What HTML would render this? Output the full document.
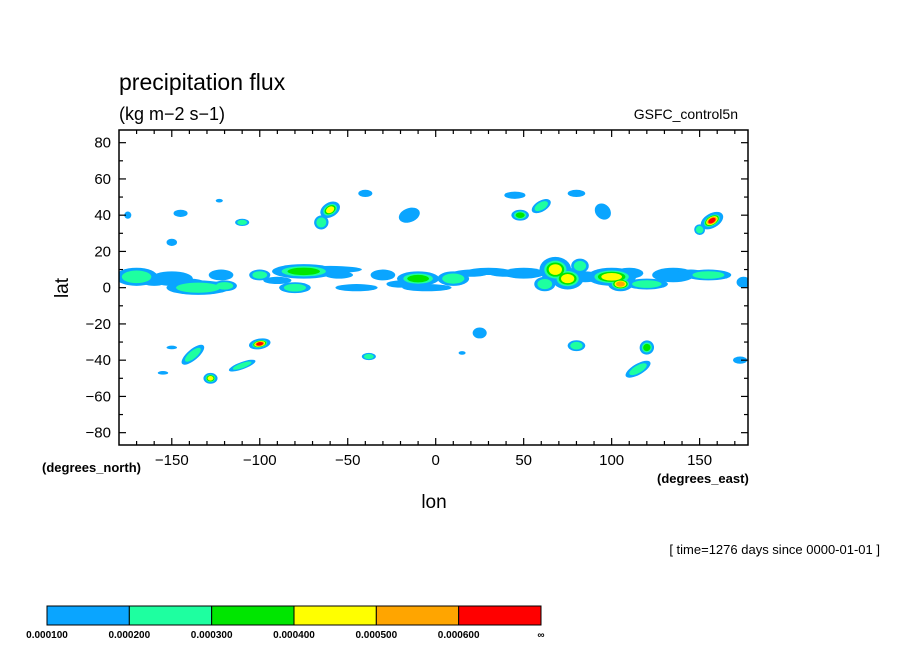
<!DOCTYPE html>
<html><head><meta charset="utf-8"><style>
body{margin:0;background:#fff;}
svg text{font-family:"Liberation Sans",sans-serif;fill:#000;}
</style></head><body>
<svg id="chart" width="904" height="654" viewBox="0 0 904 654" xmlns="http://www.w3.org/2000/svg">
<defs><clipPath id="clip"><rect x="119" y="130" width="629" height="315"/></clipPath></defs>
<rect width="904" height="654" fill="#fff"/>
<text x="119" y="90" font-size="23">precipitation flux</text>
<text x="119" y="120" font-size="18">(kg m−2 s−1)</text>
<text x="738" y="119" font-size="14" text-anchor="end">GSFC_control5n</text>
<g id="plot" clip-path="url(#clip)"></g>
<rect x="119" y="130" width="629" height="315" fill="none" stroke="#000" stroke-width="1.5"/>
<g id="axes"></g>
<text x="434" y="508" font-size="19" text-anchor="middle">lon</text>
<text x="68" y="288" font-size="19" text-anchor="middle" transform="rotate(-90 68 288)">lat</text>
<text x="42" y="472" font-size="13" font-weight="bold">(degrees_north)</text>
<text x="657" y="483" font-size="13" font-weight="bold">(degrees_east)</text>
<text x="880" y="554" font-size="13" text-anchor="end">[ time=1276 days since 0000-01-01 ]</text>
<g id="colorbar"></g>
</svg>
<script>
const levelColors=["#0aa5ff","#1effa0","#00e600","#ffff00","#ffa500","#ff0000"];
const levelLabels=["0.000100","0.000200","0.000300","0.000400","0.000500","0.000600","∞"];
const xTicks=[-150,-100,-50,0,50,100,150];
const yTicks=[80,60,40,20,0,-20,-40,-60,-80];
// blobs: center lon, center lat, half width (deg), half height (deg), peak level, rotation
const blobLon=[-170,-150,-135,-120,-122,-100,-75,-80,-60,-45,-30,-10,-5,10,30,50,68,75,100,105,120,135,155,175,
 -60,-65,-40,-15,-110,-145,-123,-150,-175,45,60,48,80,95,157,150,
 -100,-110,-128,-138,-150,-155,-38,25,15,80,120,115,173,
 -160,-140,-90,-55,-20,20,40,85,110,145,62,82];
const blobLat=[6,5,0,1,7,7,9,0,10,0,7,5,0,5,9,8,10,5,6,2,2,7,7,3,
 43,36,52,40,36,41,48,25,40,51,45,40,52,42,37,32,
 -31,-43,-50,-37,-33,-47,-38,-25,-36,-32,-33,-45,-40,
 4,3,4,7,2,8,8,6,8,8,2,12];
const blobW=[12,12,18,7,7,6,18,9,18,12,7,12,14,9,12,12,9,9,14,7,12,12,13,4,
 6,4,4,4,4,4,2,3,2,6,6,5,5,5,7,3,
 3,8,4,8,3,3,4,4,2,5,4,8,4,
 8,8,8,8,8,10,10,8,8,8,6,5];
const blobH=[5,4,4,3,3,3,4,3,2,2,3,4,2,4,2,3,7,6,5,4,3,4,3,3,
 4,4,2,6,2,2,1,2,2,2,3,3,2,4,4,3,
 6,2,3,3,1,1,2,3,1,3,4,3,2,
 3,2,2,2,2,2,2,3,3,2,4,4];
const blobPeak=[2,1,2,2,1,2,3,2,1,1,1,3,1,2,1,1,4,4,4,5,2,1,2,1,
 4,2,1,1,2,1,1,1,1,1,2,3,1,1,6,2,
 6,2,4,2,1,1,2,1,1,2,3,2,1,
 1,1,1,1,1,1,1,1,1,1,2,2];
const blobRot=[0,0,0,0,0,0,0,0,0,0,0,0,0,0,0,0,0,0,0,0,0,0,0,0,
 -30,60,0,70,0,0,0,0,0,0,-30,0,0,45,-30,-45,
 80,-20,0,-40,0,0,0,0,0,0,60,-30,0,
 0,0,0,0,0,0,0,0,0,0,0,0];

const NS="http://www.w3.org/2000/svg";
const X0=119,X1=748,Y0=130,Y1=445,LON0=-180,LON1=177.5,LAT0=87,LAT1=-86.8;
function xs(lon){return X0+(lon-LON0)/(LON1-LON0)*(X1-X0);}
function ys(lat){return Y0+(lat-LAT0)/(LAT1-LAT0)*(Y1-Y0);}
const pxLon=(X1-X0)/(LON1-LON0), pxLat=(Y1-Y0)/(LAT0-LAT1);
const plot=document.getElementById('plot');
for(let lev=1;lev<=6;lev++){
 for(let i=0;i<blobLon.length;i++){
  if(blobPeak[i]<lev) continue;
  const s=lev===1?1:0.7*(1-(lev-2)/blobPeak[i]*0.8);
  const e=document.createElementNS(NS,'ellipse');
  
  
  const cx=xs(blobLon[i]),cy=ys(blobLat[i]);
  e.setAttribute('cx',cx);e.setAttribute('cy',cy);
  e.setAttribute('rx',Math.max(1,blobW[i]*pxLon*s));
  e.setAttribute('ry',Math.max(1,blobH[i]*pxLat*s));
  e.setAttribute('transform','rotate('+blobRot[i]+' '+cx+' '+cy+')');
  e.setAttribute('fill',levelColors[lev-1]);
  plot.appendChild(e);
 }
}
const axes=document.getElementById('axes');
function line(x1,y1,x2,y2,w){const l=document.createElementNS(NS,'line');
 l.setAttribute('x1',x1);l.setAttribute('y1',y1);l.setAttribute('x2',x2);l.setAttribute('y2',y2);
 l.setAttribute('stroke','#000');l.setAttribute('stroke-width',w);
 
 
 axes.appendChild(l);}
function text(x,y,t,anchor,name){const e=document.createElementNS(NS,'text');
 e.setAttribute('x',x);e.setAttribute('y',y);e.setAttribute('font-size','15');e.setAttribute('text-anchor',anchor);
 e.textContent=t;
 
 
 axes.appendChild(e);}
for(let lon=-170;lon<=170;lon+=10){const x=xs(lon);const maj=lon%50===0;
 line(x,Y1,x,Y1-(maj?7:4),1.2);line(x,Y0,x,Y0+(maj?7:4),1.2);}
xTicks.forEach(v=>text(xs(v),465,(v<0?'−':'')+Math.abs(v),'middle','x-tick-label'));
for(let lat=-80;lat<=80;lat+=10){const y=ys(lat);const maj=lat%20===0;
 line(X0,y,X0+(maj?7:4),y,1.2);line(X1,y,X1-(maj?7:4),y,1.2);}
yTicks.forEach(v=>text(111,ys(v)+5,(v<0?'−':'')+Math.abs(v),'end','y-tick-label'));
const cb=document.getElementById('colorbar');
const cbX=47,cbW=494/6;
levelColors.forEach((c,i)=>{const r=document.createElementNS(NS,'rect');
 r.setAttribute('x',cbX+i*cbW);r.setAttribute('y',606);r.setAttribute('width',cbW);r.setAttribute('height',19);
 r.setAttribute('fill',c);r.setAttribute('stroke','#000');r.setAttribute('stroke-width','1');
 
 
 cb.appendChild(r);});
levelLabels.forEach((t,i)=>{const e=document.createElementNS(NS,'text');
 e.setAttribute('x',cbX+i*cbW);e.setAttribute('y',638);e.setAttribute('font-size','10');e.setAttribute('font-weight','bold');
 e.setAttribute('text-anchor','middle');e.textContent=t;
 
 
 cb.appendChild(e);});
</script>
</body></html>
